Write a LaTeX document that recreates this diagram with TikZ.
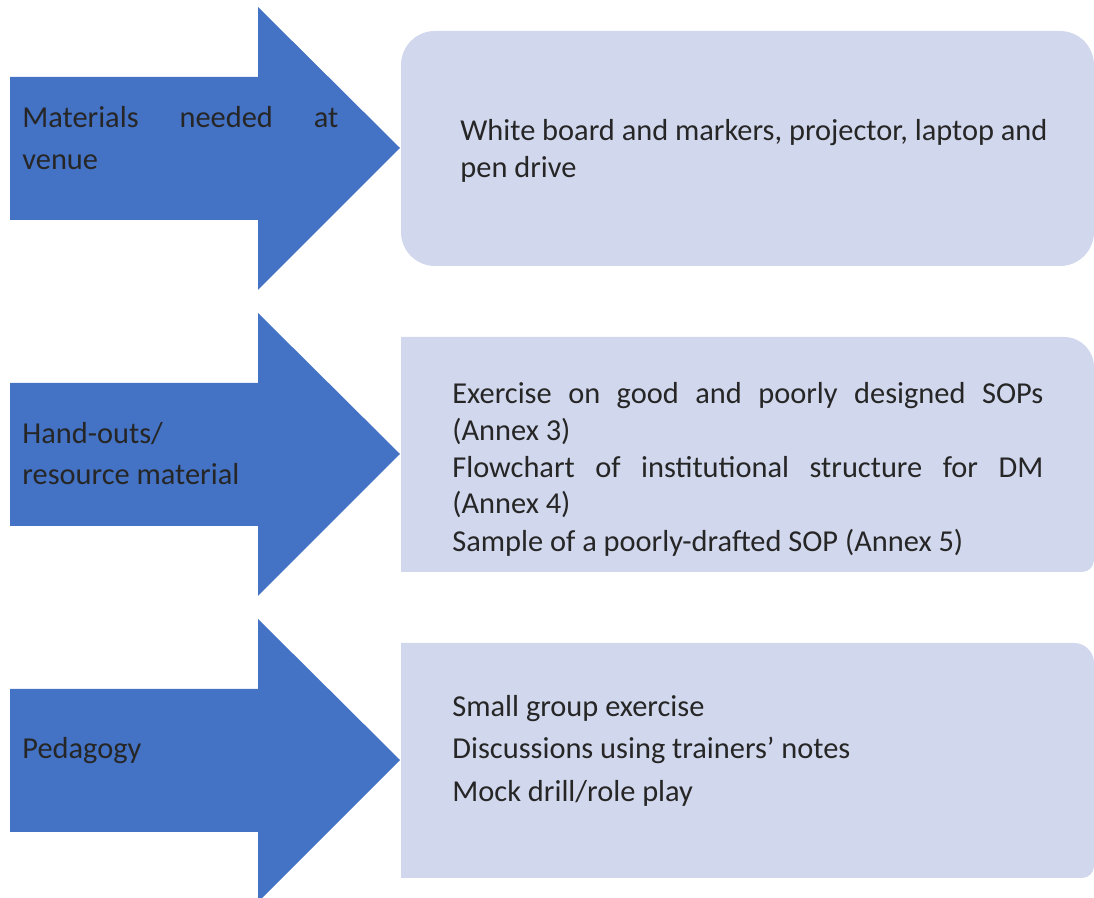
\documentclass[tikz,border=0pt]{standalone}
\usepackage{fontspec}
\setmainfont{Carlito}
\definecolor{arrowblue}{HTML}{4472C4}
\definecolor{boxfill}{HTML}{D1D7EC}
\definecolor{txt}{HTML}{262626}
\begin{document}
\begin{tikzpicture}[x=0.5pt,y=0.5pt,
  bigarrow/.style={fill=arrowblue},
  infobox/.style={fill=boxfill},
  lbl/.style={anchor=base west,inner sep=0pt,text=txt,font=\fontsize{15.2pt}{18pt}\selectfont}]
\useasboundingbox (0,0) rectangle (1094,-898);
% arrows
\fill[bigarrow] (10,-77) -- (258,-77) -- (258,-7) -- (400,-148) -- (258,-290) -- (258,-220) -- (10,-220) -- cycle;
\fill[bigarrow] (10,-383) -- (258,-383) -- (258,-313) -- (400,-454) -- (258,-596) -- (258,-526) -- (10,-526) -- cycle;
\fill[bigarrow] (10,-689) -- (258,-689) -- (258,-619) -- (400,-760) -- (258,-902) -- (258,-832) -- (10,-832) -- cycle;
% boxes
\fill[infobox,rounded corners=17pt] (401,-31) rectangle (1094,-266);
\fill[infobox] (401,-337) -- (1064,-337) arc[start angle=90,end angle=0,radius=15pt] -- (1094,-560) arc[start angle=0,end angle=-90,radius=6pt] -- (401,-572) -- cycle;
\fill[infobox] (401,-643) -- (1074,-643) arc[start angle=90,end angle=0,radius=10pt] -- (1094,-866) arc[start angle=0,end angle=-90,radius=6pt] -- (401,-878) -- cycle;
% arrow labels
\node[lbl] (a1l1) at (22,-128) {\makebox[158pt][s]{Materials needed at}};
\node[lbl] (a1l2) at (22,-170) {venue};
\node[lbl] (a2l1) at (22,-444) {Hand-outs/};
\node[lbl] (a2l2) at (22,-485) {resource material};
\node[lbl] (a3l1) at (22,-759) {Pedagogy};
% box texts
\node[lbl] (b1l1) at (460,-141) {White board and markers, projector, laptop and};
\node[lbl] (b1l2) at (460,-178) {pen drive};
\node[lbl] (b2l1) at (452,-404) {\makebox[295.5pt][s]{Exercise on good and poorly designed SOPs}};
\node[lbl] (b2l2) at (452,-441) {(Annex 3)};
\node[lbl] (b2l3) at (452,-478) {\makebox[295.5pt][s]{Flowchart of institutional structure for DM}};
\node[lbl] (b2l4) at (452,-514) {(Annex 4)};
\node[lbl] (b2l5) at (452,-552) {Sample of a poorly-drafted SOP (Annex 5)};
\node[lbl] (b3l1) at (452,-717) {Small group exercise};
\node[lbl] (b3l2) at (452,-759) {Discussions using trainers’ notes};
\node[lbl] (b3l3) at (452,-802) {Mock drill/role play};
\end{tikzpicture}
\end{document}
